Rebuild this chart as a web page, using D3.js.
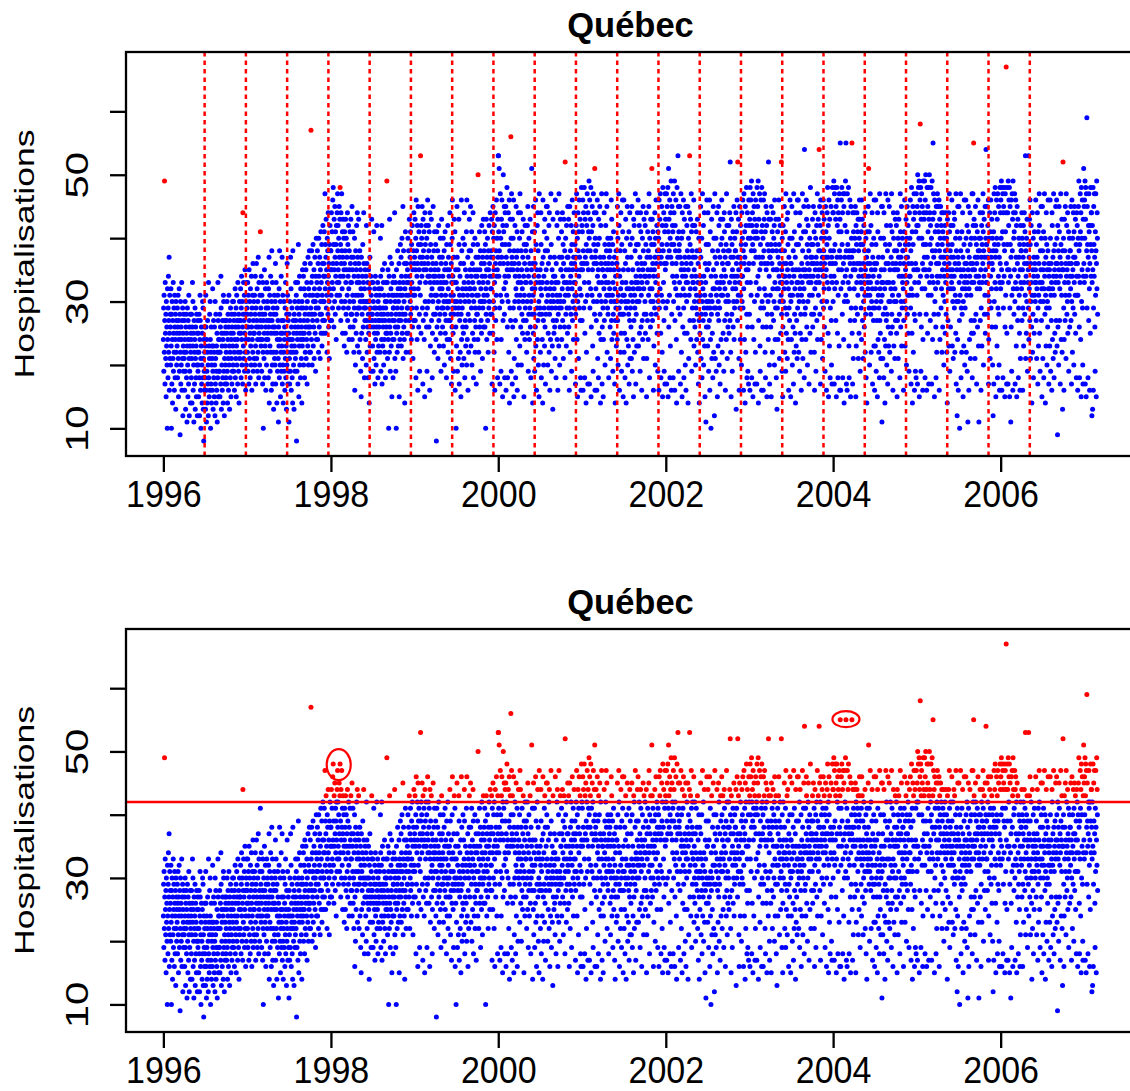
<!DOCTYPE html>
<html><head><meta charset="utf-8">
<script src="https://cdn.jsdelivr.net/npm/d3@7"></script>
<style>
body{margin:0;background:#fff}
svg{display:block}
text{font-family:"Liberation Sans",Arial,Helvetica,sans-serif;fill:#000}
</style>
</head><body>
<svg id="chart" width="1130" height="1091"></svg>
<script>
// ---------- texts / ticks ----------
const chartTitle = "Québec";
const yAxisTitle = "Hospitalisations";
const xTickYears = [1996, 1998, 2000, 2002, 2004, 2006];
const yTickValues = [10, 20, 30, 40, 50, 60];
const yTickLabels = [10, 30, 50];
const blockLengthDays = 180;      // block length of the block-maxima panel
const thresholdValue = 42;        // threshold of the peaks-over-threshold panel
const circledDates = ["1998-02-04", "2004-02-26"];
const circledValues = [47.9, 55.1];

// ---------- daily counts, one array per year (index 0 = 1 January), one line per month ----------
const dataYears = [1996,1997,1998,1999,2000,2001,2002,2003,2004,2005,2006,2007];
const d1996 = [
24,29,19,31,22,49,27,17,33,25,21,28,15,30,23,26,20,10,32,24,18,29,34,22,27,37,16,25,31,21,28,
26,20,32,23,10,28,17,30,24,14,27,21,33,19,25,29,22,16,31,26,18,24,28,13,30,22,27,20,25,
23,29,18,26,31,21,15,27,24,32,19,25,28,9,22,30,17,26,20,24,33,16,27,21,29,12,25,23,19,28,22,
21,27,16,24,30,19,13,26,22,28,18,25,11,23,29,20,15,27,24,17,31,21,12,26,19,23,28,14,22,25,
24,18,28,21,14,26,33,23,30,16,25,20,11,27,22,17,24,29,13,21,26,18,23,15,28,20,25,12,22,27,19,
20,25,15,22,28,18,12,24,31,27,16,21,10,23,26,17,20,14,25,30,18,29,13,21,8,24,19,16,22,26,
18,23,13,31,26,16,11,24,19,14,22,27,17,20,12,33,18,23,15,21,28,16,30,24,10,22,17,26,14,20,23,
21,16,32,19,13,23,27,18,22,15,26,20,12,30,17,21,28,14,19,23,16,25,11,22,18,33,27,15,24,19,22,
24,19,28,15,22,26,17,34,29,13,25,20,23,16,27,18,24,14,31,30,19,25,12,21,27,17,23,20,26,18,
22,27,17,25,30,19,14,24,28,21,16,26,31,20,23,13,27,22,18,29,25,15,24,21,28,17,26,19,30,23,20,
25,30,19,27,22,16,28,24,32,18,26,21,29,15,23,31,20,27,24,17,33,22,26,19,28,14,25,30,21,27,
27,22,32,25,18,29,34,24,20,30,26,17,44,28,23,33,21,27,31,19,25,35,22,28,16,24,30,20,33,26,29];
const d1997 = [
28,22,33,19,26,31,24,17,35,27,21,30,25,18,32,23,28,20,34,26,16,29,24,31,22,36,19,27,25,30,21,
25,31,20,28,34,23,17,29,26,36,21,27,32,19,24,30,22,37,26,18,33,25,28,20,31,24,41,27,
29,23,34,26,19,31,24,28,17,33,22,10,27,30,21,25,35,18,28,23,32,26,16,29,24,20,33,27,22,30,25,
24,29,18,32,26,37,14,27,31,23,19,28,34,22,25,16,30,38,27,20,33,17,26,29,22,13,28,25,31,21,
26,20,30,36,17,28,33,22,25,14,29,24,19,31,27,21,11,26,23,32,18,38,24,20,30,15,25,22,34,19,27,
23,37,17,25,31,20,14,27,22,30,19,24,26,16,29,21,33,18,25,23,13,28,20,36,22,31,17,24,27,19,
25,11,28,21,17,30,24,19,37,22,32,16,26,23,29,18,24,14,38,22,27,20,25,13,28,23,30,19,26,21,33,
27,22,31,8,25,19,29,24,33,17,26,39,30,15,28,23,34,20,25,27,18,32,24,29,21,26,14,30,23,35,25,
29,24,34,20,27,32,25,18,36,28,22,31,26,35,21,29,24,33,17,30,27,23,37,26,20,32,28,25,38,22,
31,26,36,22,29,57,33,24,38,28,20,34,27,31,39,23,30,26,35,21,32,28,37,25,30,19,34,29,40,24,31,
33,27,38,24,31,36,29,22,40,34,26,32,37,28,21,35,30,41,25,33,28,39,23,31,36,27,42,30,25,34,
36,30,41,27,34,47,32,39,25,37,43,29,35,31,22,40,33,38,28,44,34,26,36,30,21,39,32,42,27,35,38];
const d1998 = [
38,31,44,27,35,41,33,29,46,36,48,32,39,26,43,35,30,45,37,28,41,34,39,24,42,36,31,44,33,47,38,
42,35,29,40,33,45,37,31,43,48,34,39,27,44,36,30,47,38,32,41,25,37,43,34,29,40,35,23,
36,41,30,38,25,43,33,28,40,35,22,37,31,44,27,39,34,29,42,32,24,38,35,30,41,26,36,33,43,28,37,
33,28,45,24,35,31,41,26,37,30,22,34,29,40,16,27,36,20,38,31,25,35,42,28,33,44,23,37,29,34,
31,43,36,22,33,29,38,24,30,35,19,32,15,37,25,31,28,34,21,39,30,26,33,44,36,29,18,32,27,35,30,
29,24,34,20,42,27,36,22,30,26,33,18,28,35,25,30,14,32,27,37,23,29,26,34,19,31,28,43,33,27,
28,23,33,19,30,26,41,21,29,25,32,17,27,34,24,29,20,31,26,42,22,28,25,33,18,30,27,23,32,26,29,
27,31,22,29,40,34,19,28,32,24,42,17,27,35,23,29,26,33,20,28,31,24,36,22,27,30,18,29,25,33,26,
30,49,25,33,21,28,35,24,31,10,27,34,22,43,26,37,19,30,25,32,23,28,36,15,31,27,24,33,18,29,
29,34,24,31,27,44,21,30,26,33,19,28,10,35,25,31,22,29,38,26,32,23,30,27,36,15,28,33,24,31,39,
32,27,37,23,34,29,40,25,31,28,45,21,33,38,26,30,24,36,14,32,28,41,27,34,22,31,36,25,33,29,
35,29,40,25,33,38,31,27,43,34,22,37,30,41,28,36,32,24,39,33,29,42,26,35,21,31,38,27,44,32,36];
const d1999 = [
37,31,43,27,35,40,18,46,29,38,34,24,42,36,16,45,32,39,26,41,35,28,19,33,37,31,53,39,25,42,36,
40,34,45,29,37,17,43,27,38,35,41,24,36,15,44,30,39,33,28,42,35,26,40,19,37,29,46,34,
36,42,30,38,26,41,34,16,44,33,23,39,35,31,43,27,37,32,18,25,36,30,45,34,28,38,33,22,41,35,31,
34,28,39,24,36,8,31,41,26,33,29,38,21,35,30,42,27,34,23,37,32,28,40,25,33,19,36,31,43,29,
32,37,26,34,29,40,23,33,30,38,20,35,28,41,25,31,36,27,33,18,39,30,24,35,29,42,22,32,37,27,34,
30,35,24,44,27,39,21,31,28,36,17,33,26,40,46,29,34,25,31,19,37,28,43,33,30,41,16,29,35,26,
10,33,23,30,45,37,19,32,28,35,21,29,43,39,17,31,27,34,22,30,36,15,28,46,24,38,20,29,32,26,40,
31,25,36,21,33,44,39,18,30,27,35,23,32,26,41,20,46,34,24,31,37,16,28,33,22,30,38,43,32,27,35,
32,45,38,23,34,29,41,20,31,36,25,33,44,39,18,30,35,24,32,27,40,22,29,34,26,37,17,31,28,35,
34,28,39,24,50,31,37,22,33,29,41,26,35,30,38,19,32,27,36,25,42,30,34,21,37,29,33,43,26,31,38,
36,30,41,26,34,39,10,32,28,43,35,24,37,31,40,27,33,22,38,35,29,42,30,36,25,34,44,28,32,37,
38,32,43,28,17,41,34,25,45,37,30,40,35,22,42,33,16,29,44,36,27,38,31,46,34,24,40,35,18,43,37];
const d2000 = [
53,53,41,34,51,38,29,17,36,47,31,40,19,24,43,37,46,30,39,15,42,27,50,36,41,32,45,28,18,34,44,
39,33,45,16,37,42,31,48,35,26,18,36,30,44,34,22,39,46,14,38,29,43,35,27,56,40,19,47,36,
37,17,43,26,35,40,29,46,15,38,21,36,30,42,34,27,18,32,45,24,37,31,41,16,35,38,20,33,44,30,36,
34,29,40,23,47,31,44,26,33,38,20,35,28,41,32,25,37,30,43,27,34,15,39,31,36,24,42,29,33,38,
33,27,39,22,35,30,42,25,45,37,19,34,28,40,31,24,36,29,43,26,33,18,38,30,35,51,28,32,41,14,36,
31,25,45,21,34,28,41,19,32,36,26,46,23,39,33,16,35,29,42,24,44,27,38,20,34,30,15,47,28,33,
29,35,22,32,44,39,18,31,28,36,24,33,14,46,37,27,20,34,29,41,23,43,26,38,17,32,28,35,45,30,40,
33,45,38,20,31,25,36,29,42,22,44,28,16,32,37,24,30,47,39,19,33,29,35,23,31,13,43,27,34,30,25,
32,37,26,34,21,46,29,33,18,36,27,31,42,24,44,30,16,33,28,40,23,47,29,37,20,31,26,43,30,35,
35,29,41,24,37,32,44,27,34,39,21,36,30,43,33,26,38,18,52,31,40,28,35,23,42,33,29,37,25,45,32,
37,31,43,26,35,16,29,45,33,22,38,34,28,42,36,19,39,32,46,27,35,30,41,24,37,33,44,29,36,31,
39,33,17,28,37,42,31,47,35,24,40,15,30,44,38,21,41,34,46,29,37,32,43,27,18,35,16,31,48,36,42];
const d2001 = [
27,41,35,46,16,38,44,29,36,48,33,18,25,43,37,30,45,14,39,22,42,36,47,31,38,17,44,35,41,33,49,
40,17,46,29,38,43,32,48,15,26,41,37,31,45,35,23,42,19,47,30,39,36,44,28,51,16,40,37,
38,32,44,27,36,16,30,46,34,21,39,35,18,43,33,25,40,31,45,28,37,14,42,24,36,30,47,33,17,26,35,
35,29,15,24,37,32,44,27,34,39,20,36,30,42,33,47,38,31,45,22,35,29,40,28,36,33,18,39,31,37,
32,38,26,35,21,40,30,46,27,43,24,36,31,39,19,33,28,41,25,35,30,37,17,32,14,27,34,29,38,23,36,
30,36,24,45,27,40,20,31,35,47,42,29,16,34,28,38,22,32,44,25,30,19,39,28,33,46,41,31,15,35,
28,46,22,31,25,38,18,30,36,43,33,14,29,40,24,32,45,37,20,30,35,23,28,41,17,32,27,44,21,39,29,
31,26,37,21,33,45,40,19,30,35,24,32,15,43,27,42,22,31,29,38,47,33,17,34,28,39,23,30,36,44,32,
33,46,39,23,35,30,42,25,32,37,19,34,44,41,26,31,36,16,33,27,40,24,35,45,38,21,32,43,28,34,
36,30,42,25,34,39,28,44,15,21,37,33,27,41,35,24,38,31,45,47,34,18,40,32,37,26,43,30,35,28,39,
51,32,43,27,36,41,30,16,34,23,39,35,29,44,37,20,40,33,46,28,36,31,42,25,38,34,19,41,30,37,
40,16,46,29,38,43,32,47,36,25,18,37,31,45,39,22,42,15,48,30,38,33,44,27,19,36,41,17,47,35,43];
const d2002 = [
29,42,36,47,17,39,45,30,37,48,15,41,51,26,43,38,31,46,18,40,23,44,37,49,16,39,28,45,36,42,34,
41,18,47,30,39,44,33,49,16,27,42,38,32,46,36,24,14,34,48,31,40,37,53,29,45,19,41,38,
39,33,45,28,37,17,31,47,35,22,40,36,15,44,34,26,41,32,46,29,18,35,43,25,37,31,20,34,45,16,33,
36,30,42,25,38,33,45,14,35,40,21,37,31,44,53,27,39,32,43,24,36,47,41,19,34,38,29,42,33,37,
33,27,46,23,35,30,42,26,32,37,20,34,29,41,31,24,38,28,43,22,33,36,17,30,40,27,14,31,38,25,34,
31,45,37,21,33,28,40,18,30,47,24,32,27,42,20,34,29,44,23,31,15,36,28,33,11,39,26,30,46,35,
29,35,23,44,26,39,19,30,36,27,46,16,29,41,24,31,10,34,28,43,21,30,25,38,18,32,45,35,22,40,29,
12,32,47,37,21,34,29,40,19,31,36,44,33,15,28,38,23,30,45,27,42,20,32,29,37,17,33,43,39,24,31,
34,46,40,22,36,31,43,25,33,38,19,35,44,41,27,32,37,16,34,30,39,24,47,28,42,21,36,31,26,38,
36,30,42,25,38,33,44,27,52,40,22,37,15,43,34,28,39,19,35,32,41,26,37,30,45,24,34,29,40,33,38,
38,32,44,13,36,41,30,46,34,27,52,37,31,43,35,21,16,33,45,29,37,24,42,31,36,39,20,34,44,30,
40,34,46,29,38,16,32,47,36,24,41,37,14,45,39,22,42,35,48,28,18,33,44,26,19,35,40,17,46,36,42];
const d2003 = [
28,43,16,48,33,40,46,31,38,49,18,42,26,44,39,15,47,36,41,24,45,38,30,43,17,40,22,46,37,33,41,
42,17,48,31,40,45,34,49,14,27,43,37,32,47,35,23,19,39,29,46,36,41,16,48,30,42,37,26,
40,16,46,29,38,43,32,47,36,22,41,18,31,45,35,26,42,15,44,28,39,36,30,24,52,38,43,34,20,17,37,
37,31,43,26,39,15,45,28,36,41,22,38,32,44,35,27,40,30,42,20,46,33,24,39,29,43,35,18,38,32,
13,35,29,41,24,37,32,43,46,34,39,21,36,30,42,33,25,38,31,52,28,35,19,40,33,15,26,42,30,36,34,
32,45,38,22,34,29,41,19,47,36,25,33,28,43,21,35,44,39,24,32,16,37,29,34,27,40,46,31,36,15,
30,36,24,33,45,40,20,31,35,26,38,17,47,34,22,41,28,32,25,37,14,44,35,23,39,27,33,21,46,29,31,
33,46,39,22,35,30,42,19,32,44,25,34,28,40,16,31,36,24,33,47,38,21,35,30,41,45,32,18,54,34,28,
35,29,41,24,37,46,43,26,34,39,20,36,30,42,45,33,38,17,35,31,40,25,34,48,37,22,33,39,28,36,
37,31,43,26,39,34,45,28,36,41,22,16,32,44,35,29,40,19,37,33,42,27,36,47,24,39,34,43,31,38,35,
54,33,45,28,38,42,17,46,36,24,40,35,30,44,37,21,41,34,46,29,38,32,43,26,36,40,19,34,45,37,
41,35,16,30,39,44,33,48,37,25,42,15,32,46,40,23,43,36,18,29,38,34,45,27,20,37,17,33,48,36,44];
const d2004 = [
30,44,38,49,34,17,47,32,39,48,36,43,27,45,15,33,48,37,42,25,46,18,31,44,35,41,23,47,38,16,43,
55,37,16,32,41,46,35,48,39,28,44,18,33,47,36,24,45,14,30,47,37,42,34,49,31,55,38,17,35,
41,16,47,30,39,44,33,48,37,23,18,38,32,46,36,27,15,34,45,29,40,37,55,25,38,17,44,35,21,41,36,
38,32,44,27,40,35,45,29,15,42,23,39,33,44,36,28,41,31,43,21,38,34,25,40,46,43,36,19,39,33,
35,29,41,24,46,32,43,27,34,39,21,36,30,42,33,26,38,31,44,22,35,28,40,18,34,37,14,41,31,36,33,
32,45,38,51,34,29,41,20,31,36,47,33,28,42,22,35,30,39,44,32,17,37,29,34,27,40,23,46,36,16,
29,35,23,32,46,39,19,30,36,27,33,15,44,41,24,31,37,22,29,34,18,47,27,32,25,40,21,30,35,45,33,
11,31,45,37,21,33,28,40,18,44,35,24,32,14,29,39,23,47,36,27,42,20,33,28,38,17,46,26,36,23,30,
33,45,39,22,35,30,42,25,32,37,19,47,28,41,26,31,36,16,33,44,40,23,35,30,38,21,32,43,27,35,
36,30,42,25,38,15,44,27,35,40,21,37,31,43,34,28,39,18,36,47,41,26,37,30,45,23,34,29,40,33,38,
38,32,16,27,36,41,30,46,34,23,39,35,29,43,37,20,40,33,45,28,37,31,42,25,36,39,19,34,44,31,
40,34,46,29,38,17,32,48,36,25,41,14,31,45,39,22,43,35,47,28,16,33,44,27,19,36,41,18,47,35,42];
const d2005 = [
31,45,17,50,35,42,48,33,40,49,15,44,28,46,58,34,48,19,43,26,47,40,32,45,36,16,24,49,39,35,44,
43,37,49,32,18,46,35,50,39,28,44,16,34,48,37,25,45,41,31,48,17,43,35,50,33,44,39,27,
42,36,48,31,40,17,34,49,38,24,43,55,33,47,37,28,44,15,46,30,41,38,32,26,18,45,36,22,42,34,47,
39,33,45,28,41,36,46,16,38,43,24,40,34,45,37,29,42,32,44,22,39,35,26,41,31,44,37,20,40,34,
36,30,42,25,38,33,44,28,35,40,22,37,14,43,34,27,39,32,44,23,36,47,41,19,35,38,26,42,32,37,34,
33,46,39,23,35,30,42,21,32,37,44,34,29,43,22,36,31,40,25,47,17,38,30,35,12,41,24,45,37,16,
30,36,45,33,27,10,40,31,35,47,38,18,29,34,22,41,28,32,44,37,15,30,35,23,39,46,33,20,36,29,32,
34,46,40,22,36,31,42,19,33,38,11,35,45,41,16,32,37,24,34,44,39,21,36,31,27,40,25,33,47,18,35,
36,47,42,25,55,33,43,27,35,40,21,37,45,42,28,34,39,17,36,32,41,26,37,46,38,23,34,11,40,33,
38,32,44,27,40,35,16,29,37,42,23,39,33,44,36,47,41,20,38,34,43,28,37,31,45,25,35,40,54,33,39,
39,33,45,28,37,42,31,46,17,24,40,36,30,44,38,21,41,34,46,29,37,32,43,26,36,40,20,35,12,38,
41,17,47,30,39,44,33,48,37,26,15,38,32,46,40,23,43,18,47,29,39,34,45,28,20,37,16,33,48,36,44];
const d2006 = [
32,46,40,49,35,16,48,33,41,47,18,44,29,45,39,34,48,38,15,26,47,41,31,44,67,36,17,25,48,39,35,
44,17,49,33,42,46,35,48,15,29,45,39,34,11,37,26,46,19,31,47,38,43,16,49,32,44,40,28,
41,35,47,30,17,44,33,46,37,23,42,15,32,45,36,27,43,34,18,29,40,37,31,25,39,16,35,21,42,33,38,
38,32,44,27,40,35,16,29,37,42,23,39,33,44,36,28,41,31,53,21,38,34,25,40,30,43,36,19,39,33,
35,29,53,24,37,32,43,27,46,39,21,36,30,42,33,26,14,31,44,22,35,28,40,18,34,37,25,41,31,36,33,
30,35,46,33,27,39,21,32,37,44,34,17,29,41,23,31,36,47,42,25,33,19,38,30,35,45,40,27,32,15,
33,45,38,21,35,30,41,18,32,36,47,34,28,40,14,31,37,23,44,29,39,20,35,30,26,38,46,32,36,17,34,
29,35,23,32,46,40,19,31,36,27,33,16,44,42,24,32,37,21,34,47,38,18,31,35,25,39,22,33,45,36,27,
34,46,40,23,36,9,42,26,33,38,20,35,45,41,27,32,37,17,34,47,39,24,36,31,43,22,35,13,38,52,
35,40,29,16,24,43,33,38,27,45,31,36,21,47,34,42,28,35,30,44,25,37,33,41,19,36,31,40,26,38,34,
38,32,45,27,36,17,30,46,34,22,40,35,29,44,37,20,41,33,45,28,37,31,43,25,36,39,18,34,44,31,
42,36,16,31,40,45,34,49,38,26,18,39,33,47,41,24,44,15,48,30,40,35,46,29,20,17,43,34,51,36,45];
const d2007 = [
33,46,40,49,17,43,48,34,15,47,38,59,29,45,39,35,18,37,42,27,47,41,32,16,36,42,25,48,39,34,44,
44,38,12,33,42,13,35,48,16,29,45,39,34,47,37,26,19,41,31,47,38,15,36,49,32,44,40,28];
const yearlyCounts = [d1996,d1997,d1998,d1999,d2000,d2001,d2002,d2003,d2004,d2005,d2006,d2007];

// ---------- build records ----------
const points = [];
yearlyCounts.forEach((arr, k) => {
  const jan1 = new Date(dataYears[k], 0, 1);
  arr.forEach((v, i) => points.push({date: d3.timeDay.offset(jan1, i), value: v}));
});
const firstDate = points[0].date, lastDate = points[points.length - 1].date;
points.forEach((p, i) => { p.day = d3.timeDay.count(firstDate, p.date); p.idx = i; });
const totalDays = d3.timeDay.count(firstDate, lastDate) + 1;
const nFullBlocks = Math.floor(totalDays / blockLengthDays);

// block maxima (last occurrence of each full block's maximum)
const blockMaxIdx = new Set();
for (let b = 0; b < nFullBlocks; b++) {
  const inBlock = points.filter(p => Math.floor(p.day / blockLengthDays) === b);
  const mx = d3.max(inBlock, p => p.value);
  const lastMax = inBlock.filter(p => p.value === mx).pop();
  blockMaxIdx.add(lastMax.idx);
}
const boundaryDates = d3.range(1, nFullBlocks).map(k => d3.timeDay.offset(firstDate, k * blockLengthDays));

// ---------- scales ----------
const svg = d3.select("#chart");
const plotLeft = 126, plotRight = 1135;
const t0 = firstDate.getTime(), t1 = lastDate.getTime(), tPad = (t1 - t0) * 0.04;
const x = d3.scaleTime().domain([new Date(t0 - tPad), new Date(t1 + tPad)]).range([plotLeft, plotRight]);
const [vMin, vMax] = d3.extent(points, p => p.value);
const vPad = (vMax - vMin) * 0.04;

const BLUE = "#0000FF", RED = "#FF0000";

function drawPanel(top, bottom, colorOf, redOnTop, extras, clipId) {
  const y = d3.scaleLinear().domain([vMin - vPad, vMax + vPad]).range([bottom, top]);
  const g = svg.append("g");

  svg.append("clipPath").attr("id", clipId).append("rect")
    .attr("x", plotLeft).attr("y", top).attr("width", plotRight - plotLeft).attr("height", bottom - top);

  const pg = g.append("g").attr("clip-path", `url(#${clipId})`);
  const ordered = redOnTop
    ? points.filter(p => colorOf(p) === BLUE).concat(points.filter(p => colorOf(p) === RED))
    : points;
  pg.selectAll("circle.pt").data(ordered).join("circle")
    .attr("class", "pt")
    .attr("cx", p => x(p.date)).attr("cy", p => y(p.value)).attr("r", 2.5)
    .attr("fill", p => colorOf(p));

  extras(pg, y, top, bottom);

  // box
  g.append("rect").attr("x", plotLeft).attr("y", top)
    .attr("width", plotRight - plotLeft).attr("height", bottom - top)
    .attr("fill", "none").attr("stroke", "#000").attr("stroke-width", 2.3);

  // x axis
  const xa = g.append("g").attr("transform", `translate(0,${bottom})`)
    .call(d3.axisBottom(x).tickValues(xTickYears.map(yr => new Date(yr, 0, 1)))
      .tickSize(16).tickFormat(d3.timeFormat("%Y")));
  xa.attr("font-size", null).attr("font-family", null);
  xa.select(".domain").remove();
  xa.selectAll(".tick line").attr("stroke", "#000").attr("stroke-width", 2.3);
  xa.selectAll(".tick text").attr("y", null).attr("dy", null)
    .attr("transform", "translate(0,50.7) scale(1,1.1)")
    .style("font-size", "34px").attr("fill", "#000");

  // y axis
  const ya = g.append("g").attr("transform", `translate(${plotLeft},0)`)
    .call(d3.axisLeft(y).tickValues(yTickValues).tickSize(16)
      .tickFormat(d => yTickLabels.includes(d) ? String(d) : ""));
  ya.attr("font-size", null).attr("font-family", null);
  ya.select(".domain").remove();
  ya.selectAll(".tick line").attr("stroke", "#000").attr("stroke-width", 2.3);
  ya.selectAll(".tick text").attr("x", null).attr("dy", null)
    .attr("text-anchor", "middle")
    .attr("transform", "translate(-38,0) scale(1,1.35) rotate(-90)")
    .style("font-size", "31px").attr("fill", "#000");

  // title
  g.append("text").attr("x", (plotLeft + plotRight) / 2).attr("y", top - 15)
    .attr("text-anchor", "middle").style("font-size", "34.5px").style("font-weight", "bold")
    .text(chartTitle);

  // y title
  g.append("text")
    .attr("transform", `translate(33.5,${(top + bottom) / 2}) scale(1,1.27) rotate(-90)`)
    .attr("text-anchor", "middle").style("font-size", "28px")
    .text(yAxisTitle);
}

// Panel 1: block maxima
drawPanel(52, 456,
  p => blockMaxIdx.has(p.idx) ? RED : BLUE, true,
  (pg, y, top, bottom) => {
    pg.selectAll("line.blk").data(boundaryDates).join("line")
      .attr("class", "blk")
      .attr("x1", d => x(d)).attr("x2", d => x(d))
      .attr("y1", top).attr("y2", bottom)
      .attr("stroke", RED).attr("stroke-width", 2.5).attr("stroke-dasharray", "4.5,4");
  }, "clip1");

// Panel 2: peaks over threshold
drawPanel(629, 1032,
  p => p.value > thresholdValue ? RED : BLUE, false,
  (pg, y) => {
    pg.append("line").attr("x1", plotLeft).attr("x2", plotRight)
      .attr("y1", y(thresholdValue)).attr("y2", y(thresholdValue))
      .attr("stroke", RED).attr("stroke-width", 2.5);
    const parse = d3.timeParse("%Y-%m-%d");
    const radii = [[12, 15.5], [13.5, 8]];
    pg.selectAll("ellipse.ann").data(circledDates.map((d, i) => ({date: parse(d), value: circledValues[i], r: radii[i]})))
      .join("ellipse").attr("class", "ann")
      .attr("cx", d => x(d.date)).attr("cy", d => y(d.value))
      .attr("rx", d => d.r[0]).attr("ry", d => d.r[1])
      .attr("fill", "none").attr("stroke", RED).attr("stroke-width", 2.2);
  }, "clip2");
</script>
</body></html>
